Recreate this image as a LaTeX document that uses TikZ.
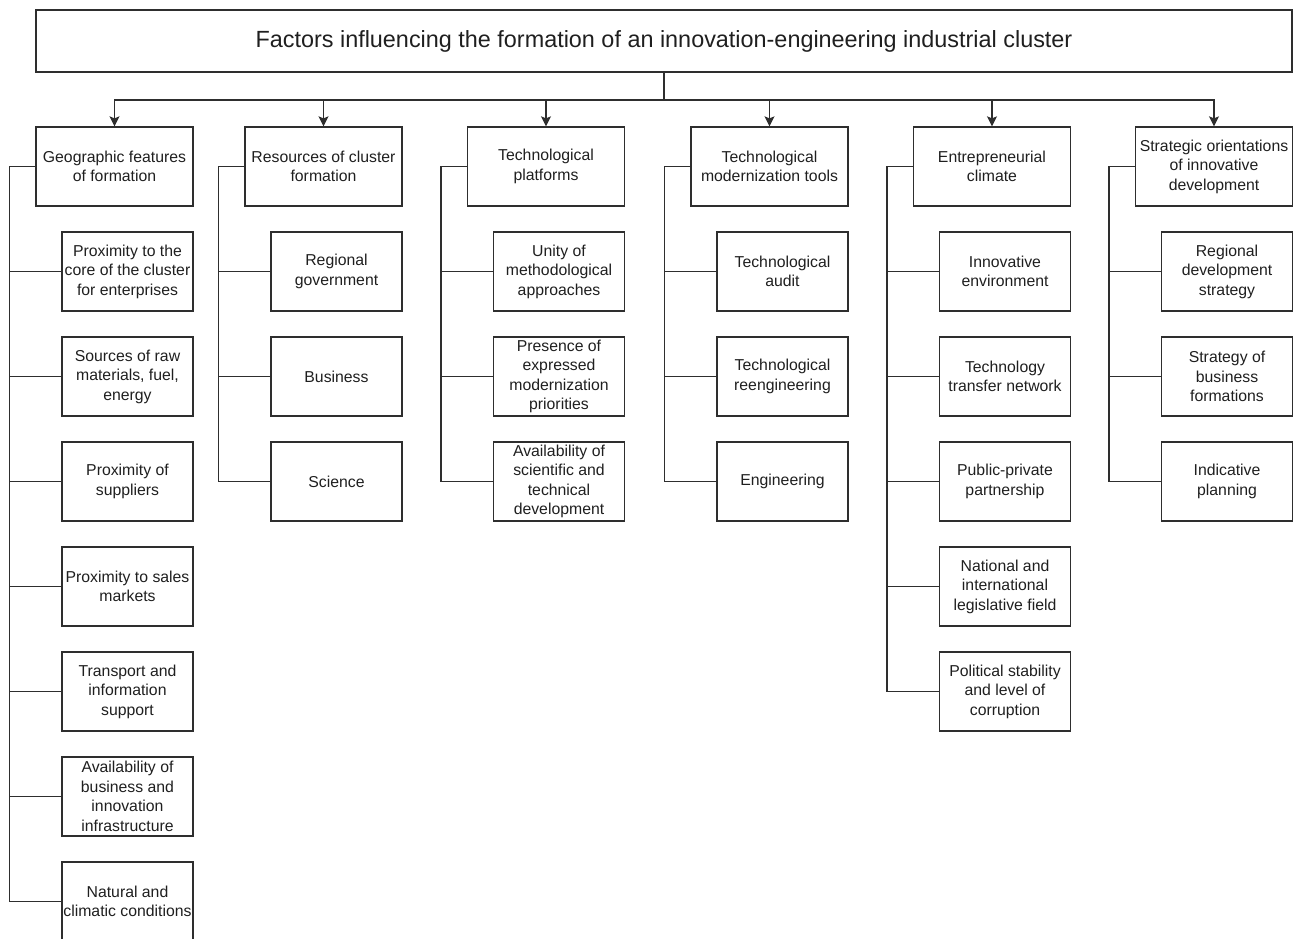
\documentclass[tikz,border=0pt]{standalone}
\usepackage{fontspec}
\setmainfont{Liberation Sans}
\usetikzlibrary{arrows.meta}
\begin{document}
\begin{tikzpicture}[x=1pt,y=-1pt,
  box/.style={draw=black!82, line width=1.3pt, align=center, inner sep=0pt,
    font=\fontsize{15.8}{19.5}\selectfont, text=black!88},
  pbox/.style={box, minimum width=157pt, minimum height=79pt},
  cbox/.style={box, minimum width=131pt, minimum height=79pt},
  conn/.style={draw=black!82, line width=1.3pt},
  arr/.style={conn, -{Stealth[length=10pt,width=10pt,inset=2pt]}}
]
\useasboundingbox (0,0) rectangle (1293,938);

\node[box, minimum width=1256pt, minimum height=62pt,
  font=\fontsize{23.4}{28}\selectfont] (title) at (664,41)
  {Factors influencing the formation of an innovation-engineering industrial cluster};

% parents
\node[pbox] (p1) at (114.5,166.5) {Geographic features\\of formation};
\node[pbox] (p2) at (323.5,166.5) {Resources of cluster\\formation};
\node[pbox] (p3) at (546,166.5) {Technological\\platforms};
\node[pbox] (p4) at (769.5,166.5) {Technological\\modernization tools};
\node[pbox] (p5) at (992,166.5) {Entrepreneurial\\climate};
\node[pbox] (p6) at (1214,166.5) {Strategic orientations\\of innovative\\development};

% column 1
\node[cbox] (a1) at (127.5,271.5) {Proximity to the\\core of the cluster\\for enterprises};
\node[cbox] (a2) at (127.5,376.5) {Sources of raw\\materials, fuel,\\energy};
\node[cbox] (a3) at (127.5,481.5) {Proximity of\\suppliers};
\node[cbox] (a4) at (127.5,586.5) {Proximity to sales\\markets};
\node[cbox] (a5) at (127.5,691.5) {Transport and\\information\\support};
\node[cbox] (a6) at (127.5,796.5) {Availability of\\business and\\innovation\\infrastructure};
\node[cbox] (a7) at (127.5,901.5) {Natural and\\climatic conditions};

% column 2
\node[cbox] (b1) at (336.5,271.5) {Regional\\government};
\node[cbox] (b2) at (336.5,376.5) {Business};
\node[cbox] (b3) at (336.5,481.5) {Science};

% column 3
\node[cbox] (c1) at (559,271.5) {Unity of\\methodological\\approaches};
\node[cbox] (c2) at (559,376.5) {Presence of\\expressed\\modernization\\priorities};
\node[cbox] (c3) at (559,481.5) {Availability of\\scientific and\\technical\\development};

% column 4
\node[cbox] (d1) at (782.5,271.5) {Technological\\audit};
\node[cbox] (d2) at (782.5,376.5) {Technological\\reengineering};
\node[cbox] (d3) at (782.5,481.5) {Engineering};

% column 5
\node[cbox] (e1) at (1005,271.5) {Innovative\\environment};
\node[cbox] (e2) at (1005,376.5) {Technology\\transfer network};
\node[cbox] (e3) at (1005,481.5) {Public-private\\partnership};
\node[cbox] (e4) at (1005,586.5) {National and\\international\\legislative field};
\node[cbox] (e5) at (1005,691.5) {Political stability\\and level of\\corruption};

% column 6
\node[cbox] (f1) at (1227,271.5) {Regional\\development\\strategy};
\node[cbox] (f2) at (1227,376.5) {Strategy of\\business\\formations};
\node[cbox] (f3) at (1227,481.5) {Indicative\\planning};

% bus and arrows
\coordinate (bus) at (664,100);
\foreach \p in {p1,p2,p3,p4,p5,p6}
  \draw[arr] (title.south) -- (bus) -| (\p.north);

% trunks
\foreach \c in {a1,a2,a3,a4,a5,a6,a7}
  \draw[conn] (p1.west) -- ++(-26,0) |- (\c.west);
\foreach \c in {b1,b2,b3}
  \draw[conn] (p2.west) -- ++(-26,0) |- (\c.west);
\foreach \c in {c1,c2,c3}
  \draw[conn] (p3.west) -- ++(-26,0) |- (\c.west);
\foreach \c in {d1,d2,d3}
  \draw[conn] (p4.west) -- ++(-26,0) |- (\c.west);
\foreach \c in {e1,e2,e3,e4,e5}
  \draw[conn] (p5.west) -- ++(-26,0) |- (\c.west);
\foreach \c in {f1,f2,f3}
  \draw[conn] (p6.west) -- ++(-26,0) |- (\c.west);
\end{tikzpicture}
\end{document}
